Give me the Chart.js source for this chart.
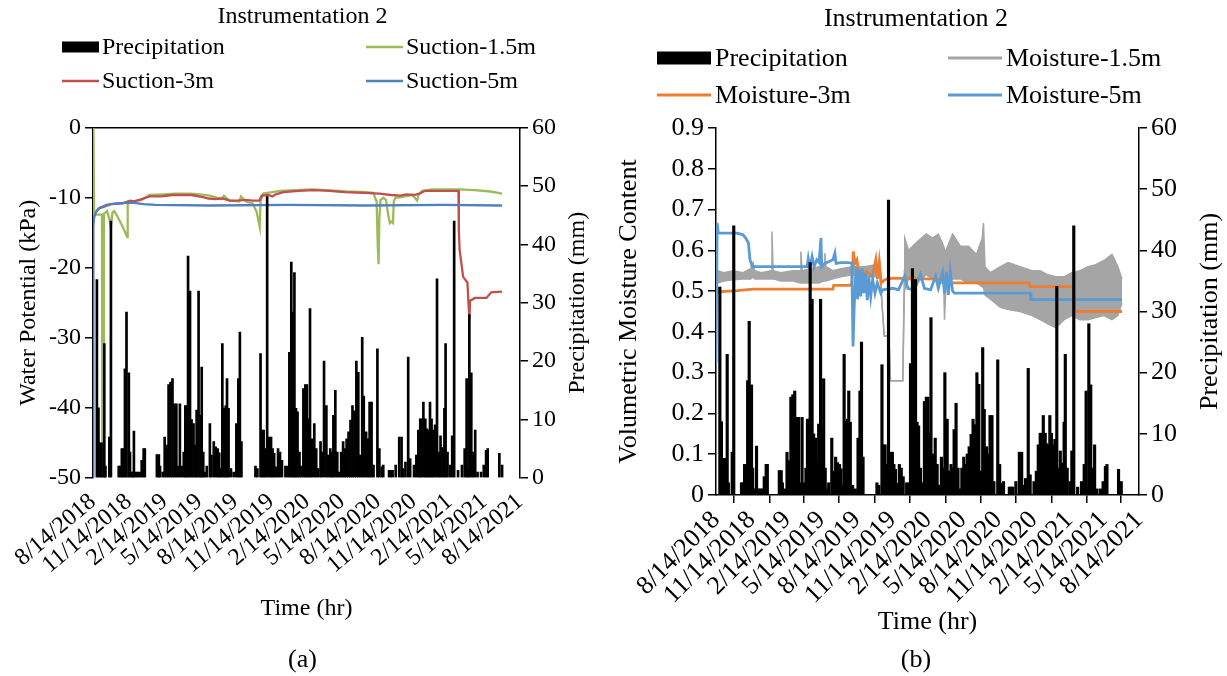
<!DOCTYPE html>
<html><head><meta charset="utf-8">
<script src="https://cdn.jsdelivr.net/npm/chart.js@4.4.1/dist/chart.umd.min.js"></script>
<style>
html,body{margin:0;padding:0;background:#fff;}
body{width:1227px;height:676px;overflow:hidden;position:relative;}
canvas{position:absolute;top:0;}
</style></head>
<body>
<canvas id="ca" width="605" height="676" style="left:0px"></canvas>
<canvas id="cb" width="622" height="676" style="left:605px"></canvas>
<script>
// ---------- data (x = days since 8/14/2018) ----------
const tickDays = [0,92,184,273,365,457,549,639,731,823,915,1004,1096];
const tickLabels = ['8/14/2018','11/14/2018','2/14/2019','5/14/2019','8/14/2019','11/14/2019','2/14/2020','5/14/2020','8/14/2020','11/14/2020','2/14/2021','5/14/2021','8/14/2021'];

// daily precipitation [day, mm]
const precip = [[10,34],[14,12],[19,6],[22,6],[29,23],[32,2],[42,7],[46,44],[66,2],[70,2],[74,5],[78,5],[82,18.7],[86,28.4],[92,18],[95,4.4],[100,1],[103,1],[105,8],[110,1],[115,1],[120,1],[125,3],[130,5],[133,5],
[164,4],[169,4],[172,2],[179,1],[184,7],[189,5.6],[194,16],[199,16.4],[204,17],[209,12.7],[214,12.7],[218,2],[223,12.7],[228,2],[233,4.4],[237,12.4],[241,12.4],[244,38],[249,32],[253,10],[258,9.3],[263,5.6],[266,11.6],[271,32],[276,10.7],[279,19],[283,4.4],[287,1],[292,2],[300,9.3],[304,3.9],[310,6.2],[315,5.3],[320,5],[324,4.3],[327,1.6],[332,23],[337,12],[341,12.4],[344,17],[348,11.9],[354,1.6],[361,1],[368,9.3],[373,17],[377,25],[381,6.2],
[417,2],[422,1.6],[430,21.3],[434,8.2],[438,8.2],[442,5],[447,48.2],[452,7],[457,7],[461,5],[465,4.2],[470,1.9],[475,5],[480,4.4],[485,3],[494,2],[499,2],[504,21.5],[509,37],[513,28.4],[517,35.2],[521,11.9],[525,11.3],[530,4.4],[535,2],[540,15.3],[545,16],[549,16],[554,10.1],[557,29],[562,6.7],[568,9.3],[573,5],[578,1.6],[584,6.2],[587,4.4],[593,20],[599,12.4],[604,3.9],[609,5],[613,4.4],[617,10.7],[622,15],[627,4.4],[632,1],[637,4.4],[642,6.2],[646,5],[651,6.7],[656,7.9],[661,9.9],[666,12.4],[671,11.5],[676,20],[681,18.1],[686,3.9],[691,24.1],[695,14],[701,7.9],[706,6.7],[710,13],[715,13],[720,2.2],[730,22.1],[735,5],[741,1.9],[745,2.2],
[760,1.3],[765,1.3],[769,1.3],[777,2.2],[786,7],[792,7],[796,1.6],[802,2.7],[809,20.7],[814,3.3],[824,2.2],[830,3.9],[835,8.2],[840,10.1],[843,10.1],[848,13],[853,10.1],[857,8.4],[861,8.2],[865,13],[869,10.1],[873,8.2],[878,9.1],[883,34.1],[888,4.4],[892,7.2],[897,5.2],[902,11.9],[905,23],[910,4.4],[917,2.2],[922,7.2],[927,44],[937,1.3],[947,2.2],[954,5],[959,17],[963,1.3],[966,28],[971,18],[976,4.4],[981,8.2],[987,1],[996,1],[1003,2.2],[1009,4.7],[1013,5],[1043,4.2],[1050,2.2]];

// water potential (kPa) [day, value]
const suction15 = [[1,0],[3,-12.4],[23,-12.4],[24,-50],[27,-50],[28,-12.3],[36,-11.9],[41,-12.8],[46,-14.1],[50,-12.1],[55,-11.9],[62,-12.6],[75,-14.0],[88,-15.6],[89,-11.0],[92,-10.6],[105,-10.5],[125,-10.3],[145,-9.6],[180,-9.5],[210,-9.4],[250,-9.4],[275,-9.5],[300,-9.7],[330,-10.2],[336,-9.7],[342,-10.0],[350,-10.4],[375,-10.5],[380,-9.8],[385,-10.1],[395,-10.6],[410,-10.8],[420,-12.0],[428,-14.2],[430,-10.5],[437,-9.4],[460,-9.2],[480,-9.0],[520,-8.9],[560,-8.8],[600,-8.9],[650,-9.1],[700,-9.2],[720,-9.3],[724,-10.0],[728,-10.5],[731,-17.0],[733,-19.5],[735,-13.0],[738,-10.3],[745,-10.0],[752,-10.3],[758,-12.5],[762,-13.6],[766,-13.4],[770,-13.6],[772,-10.5],[776,-10.0],[790,-9.9],[800,-9.8],[820,-9.6],[832,-10.4],[836,-9.5],[845,-9.0],[870,-8.8],[940,-8.8],[980,-8.9],[1020,-9.1],[1050,-9.4]];
const suction3 = [[8,-12.0],[15,-11.5],[27,-11.3],[46,-10.9],[76,-10.8],[95,-10.4],[105,-10.5],[125,-10.2],[145,-9.8],[174,-9.8],[204,-9.6],[253,-9.6],[282,-9.9],[297,-10.1],[312,-10.2],[332,-10.1],[351,-10.4],[371,-10.4],[391,-10.3],[410,-10.4],[427,-10.4],[433,-9.7],[450,-9.6],[460,-9.8],[469,-9.5],[489,-9.2],[528,-9.0],[568,-8.9],[607,-9.0],[646,-9.2],[696,-9.3],[735,-9.4],[765,-9.6],[789,-9.7],[804,-9.5],[824,-9.6],[838,-9.4],[853,-9.0],[938,-9.0],[939,-14.6],[941,-17.4],[950,-21.3],[961,-22.1],[966,-27.3],[968,-24.7],[980,-24.3],[1010,-24.3],[1022,-23.5],[1050,-23.4]];
const suction5 = [[0,-50],[1,-14.0],[3,-12.8],[8,-12.0],[18,-11.4],[35,-11.0],[60,-10.8],[100,-10.7],[130,-10.9],[160,-11.0],[300,-11.1],[500,-11.0],[700,-11.1],[900,-11.0],[1050,-11.1]];

// volumetric moisture content
// Moisture-1.5m band: [day, upper, lower]
const moisture15 = [[0,.53,.52],[4,.55,.52],[20,.545,.525],[44,.55,.528],[70,.545,.53],[90,.555,.53],[96,.57,.535],[100,.55,.53],[117,.545,.53],[143,.55,.53],[145,.646,.53],[148,.55,.53],[168,.545,.525],[200,.55,.525],[218,.55,.52],[220,.597,.52],[223,.55,.52],[267,.56,.52],[280,.56,.525],[282,.593,.525],[285,.56,.525],[303,.55,.53],[323,.555,.535],[354,.56,.54],[385,.56,.535],[416,.565,.535],[425,.57,.535],[430,.47,.47],[436,.39,.39],[448,.39,.39],[452,.28,.28],[484,.28,.28],[488,.55,.50],[489,.63,.50],[499,.60,.53],[520,.62,.52],[545,.64,.54],[561,.63,.53],[576,.64,.52],[590,.61,.52],[592,.60,.43],[596,.60,.52],[613,.64,.53],[633,.61,.53],[654,.61,.52],[675,.59,.52],[690,.63,.51],[693,.667,.51],[697,.56,.49],[711,.545,.48],[737,.56,.46],[757,.57,.455],[788,.56,.45],[819,.55,.44],[840,.55,.43],[860,.54,.42],[881,.535,.41],[902,.535,.43],[922,.545,.44],[943,.55,.43],[964,.56,.43],[984,.565,.435],[1005,.575,.44],[1026,.59,.43],[1041,.56,.44],[1052,.53,.47]];
const moisture3 = [[0,.528],[5,.495],[13,.499],[55,.501],[96,.505],[303,.505],[305,.514],[349,.514],[352,.52],[356,.597],[360,.569],[365,.577],[370,.544],[380,.536],[390,.548],[405,.536],[414,.577],[418,.53],[423,.572],[428,.52],[437,.528],[458,.532],[603,.529],[608,.52],[811,.52],[814,.511],[926,.511],[929,.45],[1052,.45]];
const moisture5 = [[0,.323],[3,.667],[6,.642],[55,.642],[70,.638],[77,.63],[84,.618],[88,.577],[94,.56],[236,.56],[239,.58],[243,.557],[249,.585],[254,.56],[261,.577],[267,.57],[272,.63],[274,.56],[282,.568],[292,.572],[303,.577],[308,.593],[311,.568],[323,.57],[339,.57],[352,.569],[355,.364],[358,.46],[363,.56],[367,.48],[371,.552],[375,.487],[379,.556],[383,.495],[387,.544],[392,.478],[396,.536],[401,.487],[406,.528],[412,.495],[418,.52],[427,.495],[432,.503],[458,.507],[473,.503],[489,.537],[497,.507],[514,.503],[530,.541],[540,.507],[556,.503],[569,.537],[576,.507],[587,.545],[592,.495],[597,.547],[602,.491],[607,.547],[613,.5],[618,.495],[814,.495],[816,.479],[1052,.479]];

// ---------- helpers ----------
Chart.defaults.font.family = "'Liberation Serif','Times New Roman',serif";
Chart.defaults.color = '#000';
const pts = arr => arr.map(p => ({x:p[0], y:p[1]}));
const fixW = w => s => { s.width = w; };
const fixH = h => s => { s.height = h; };

const gridLegend = {
  id: 'gridLegend',
  afterDraw(chart, args, o) {
    const ctx = chart.ctx;
    ctx.save();
    ctx.font = o.fontSize + "px 'Liberation Serif'";
    ctx.textBaseline = 'middle';
    const items = chart.data.datasets.filter(d => !d.hideInLegend);
    items.forEach((ds, i) => {
      const x = o.cols[i % 2], y = o.rows[Math.floor(i / 2)];
      if (ds.type === 'bar') {
        ctx.fillStyle = ds.backgroundColor;
        ctx.fillRect(x, y - o.boxH / 2, o.symW, o.boxH);
      } else {
        ctx.strokeStyle = ds.borderColor;
        ctx.lineWidth = o.lineW;
        ctx.beginPath(); ctx.moveTo(x, y); ctx.lineTo(x + o.symW, y); ctx.stroke();
      }
      ctx.fillStyle = '#000';
      ctx.textAlign = 'left';
      ctx.fillText(ds.label, x + o.symW + o.gap, y + 1);
    });
    // right-hand axis title, reading bottom-to-top
    const ca = chart.chartArea;
    ctx.translate(o.rightTitleX, (ca.top + ca.bottom) / 2);
    ctx.rotate(-Math.PI / 2);
    ctx.textAlign = 'center';
    ctx.font = o.rightTitleSize + "px 'Liberation Serif'";
    ctx.fillText(o.rightTitle, 0, 0);
    ctx.restore();
  }
};

function xScale(h, fs, rot, titleSize, titlePad, showTicks) {
  return {
    type: 'linear', position: 'bottom', min: 0, max: 1096, offset: false,
    afterBuildTicks: s => { s.ticks = tickDays.map(v => ({value: v})); },
    ticks: { autoSkip: false, minRotation: rot, maxRotation: rot, padding: 2, font: {size: fs},
             callback: v => tickLabels[tickDays.indexOf(v)] },
    grid: showTicks ? { display: true, drawOnChartArea: false, drawTicks: true, tickLength: 8, color: '#000', lineWidth: 1.5 }
                    : { display: false },
    border: showTicks ? { display: true, color: '#000', width: 1.5 } : { display: false },
    title: { display: true, text: 'Time (hr)', font: {size: titleSize}, padding: {top: 0, bottom: titlePad} },
    afterFit: fixH(h)
  };
}
function yScale(pos, min, max, step, fs, w, title, titleSize, titlePad) {
  return {
    position: pos, min: min, max: max,
    ticks: { stepSize: step, font: {size: fs}, padding: 4 },
    grid: { display: true, drawOnChartArea: false, drawTicks: true, tickLength: 8, color: '#000', lineWidth: 1.5 },
    border: { display: true, color: '#000', width: 1.5 },
    title: title ? { display: true, text: title, font: {size: titleSize}, padding: {top: titlePad, bottom: 0} } : {display: false},
    afterFit: fixW(w)
  };
}

// ---------- chart (a) ----------
new Chart(document.getElementById('ca'), {
  type: 'bar',
  data: { datasets: [
    { type: 'bar', label: 'Precipitation', data: pts(precip), backgroundColor: '#000', barThickness: 2, xAxisID: 'x', yAxisID: 'yR', order: 0 },
    { type: 'line', label: 'Suction-1.5m', data: pts(suction15), borderColor: '#9BBB59', borderWidth: 2.3, pointRadius: 0, tension: 0, xAxisID: 'x', yAxisID: 'yL', order: 3 },
    { type: 'line', label: 'Suction-3m', data: pts(suction3), borderColor: '#C0504D', borderWidth: 2.3, pointRadius: 0, tension: 0, xAxisID: 'x', yAxisID: 'yL', order: 2 },
    { type: 'line', label: 'Suction-5m', data: pts(suction5), borderColor: '#4F81BD', borderWidth: 2.3, pointRadius: 0, tension: 0, xAxisID: 'x', yAxisID: 'yL', order: 1 }
  ]},
  options: {
    responsive: false, animation: false, events: [],
    layout: { padding: 0 },
    plugins: {
      legend: { display: false }, tooltip: { enabled: false },
      title: { display: true, text: 'Instrumentation 2', font: {size: 24, weight: 'normal'}, color: '#000', padding: {top: 2, bottom: 97} },
      subtitle: { display: true, position: 'bottom', text: '(a)', font: {size: 26}, color: '#000', padding: {top: 0, bottom: 0} },
      gridLegend: { cols: [62, 366], rows: [47, 81], symW: 37, boxH: 11, lineW: 2.3, gap: 3, fontSize: 24,
                    rightTitle: 'Precipitation (mm)', rightTitleX: 578, rightTitleSize: 24 }
    },
    scales: {
      x: xScale(167, 24, 40, 24, 22, false),
      xTop: { type: 'linear', position: 'top', min: 0, max: 1096, ticks: {display: false}, grid: {display: false, drawTicks: false}, border: {display: true, color: '#000', width: 1.5}, afterFit: fixH(0) },
      yL: yScale('left', -50, 0, 10, 24, 93, 'Water Potential (kPa)', 24, 14),
      yR: yScale('right', 0, 60, 10, 24, 85, null)
    }
  },
  plugins: [gridLegend]
});

// ---------- chart (b) ----------
new Chart(document.getElementById('cb'), {
  type: 'bar',
  data: { datasets: [
    { type: 'bar', label: 'Precipitation', data: pts(precip), backgroundColor: '#000', barThickness: 2.5, xAxisID: 'x', yAxisID: 'yR', order: 0 },
    { type: 'line', label: 'Moisture-1.5m', data: moisture15.map(p => ({x: p[0], y: p[1]})), borderColor: '#A5A5A5', backgroundColor: '#A5A5A5', fill: '+1', borderWidth: 1.5, pointRadius: 0, tension: 0, xAxisID: 'x', yAxisID: 'yL', order: 4 },
    { type: 'line', label: 'Moisture-1.5m (low)', hideInLegend: true, data: moisture15.map(p => ({x: p[0], y: p[2]})), borderColor: '#A5A5A5', fill: false, borderWidth: 1.5, pointRadius: 0, tension: 0, xAxisID: 'x', yAxisID: 'yL', order: 5 },
    { type: 'line', label: 'Moisture-3m', data: pts(moisture3), borderColor: '#ED7D31', borderWidth: 2.8, pointRadius: 0, tension: 0, xAxisID: 'x', yAxisID: 'yL', order: 2 },
    { type: 'line', label: 'Moisture-5m', data: pts(moisture5), borderColor: '#5B9BD5', borderWidth: 2.8, pointRadius: 0, tension: 0, xAxisID: 'x', yAxisID: 'yL', order: 1 }
  ]},
  options: {
    responsive: false, animation: false, events: [],
    layout: { padding: 0 },
    plugins: {
      legend: { display: false }, tooltip: { enabled: false },
      title: { display: true, text: 'Instrumentation 2', font: {size: 26, weight: 'normal'}, color: '#000', padding: {top: 4, bottom: 92.8} },
      subtitle: { display: true, position: 'bottom', text: '(b)', font: {size: 26}, color: '#000', padding: {top: 0, bottom: 0} },
      gridLegend: { cols: [52, 343], rows: [58, 95], symW: 54, boxH: 13, lineW: 3, gap: 4, fontSize: 26,
                    rightTitle: 'Precipitation (mm)', rightTitleX: 605, rightTitleSize: 26 }
    },
    scales: {
      x: xScale(149.8, 26, 45, 26, 7, true),
      yL: yScale('left', 0, 0.9, 0.1, 26, 111, 'Volumetric Moisture Content', 26, 9),
      yR: yScale('right', 0, 60, 10, 26, 88, null)
    }
  },
  plugins: [gridLegend]
});
</script>
</body></html>
